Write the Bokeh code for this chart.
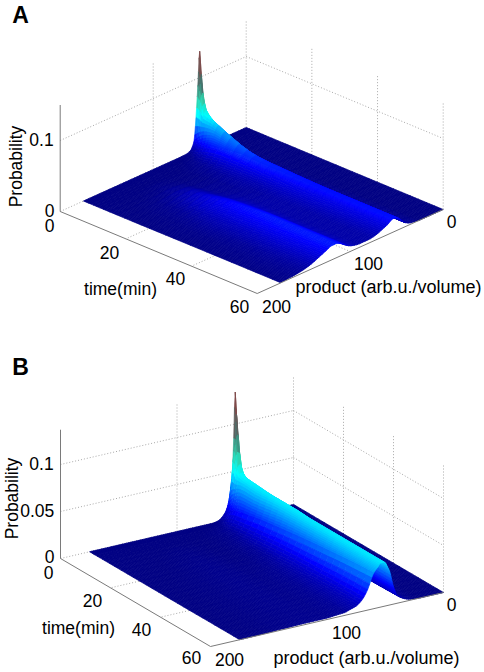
import numpy as np
from bokeh.plotting import figure
from bokeh.layouts import column
from bokeh.models import ColumnDataSource
from bokeh.core.properties import value
from bokeh.embed import file_html
from bokeh.resources import INLINE

# ---------- data ----------
product = [0, 10, 20, 25, 30, 35,
           40, 42, 44, 46, 48, 50, 52, 54, 56, 58, 60,
           65, 70, 75, 80, 85, 90, 95,
           100, 105, 110, 115, 120, 125, 130, 135, 140,
           150, 160, 175]
time_min = [0, 1, 2, 4, 6, 10, 15, 20, 25, 30, 40, 50, 60]

a_t0 = [0,0,0,0,0,0, .0005,.001,.003,.006,.02,.137,.09,.046,.015,.007,.003, .0005,.0001,0,0,0,0,0, 0,0,0,0,0,0,0,0,0, 0,0,0]
a_t1 = [0,0,0,0,0,.0002, .001,.002,.004,.01,.035,.08,.075,.045,.02,.009,.005, .001,.0003,0,0,0,0,0, 0,0,0,0,0,0,0,0,0, 0,0,0]
a_t2 = [0,0,0,0,0,.0005, .0015,.003,.007,.018,.04,.058,.055,.042,.025,.013,.008, .002,.0005,.0002,0,0,0,0, 0,0,0,0,0,0,0,0,0, 0,0,0]
a_t4 = [0,0,0,0,.0002,.001, .002,.005,.012,.025,.04,.048,.05,.042,.03,.02,.013, .005,.002,.001,.0005,.0002,0,0, 0,0,0,0,0,0,0,0,0, 0,0,0]
a_t6 = [0,0,0,0,.0003,.001, .004,.008,.015,.026,.036,.043,.044,.04,.032,.024,.017, .007,.003,.0015,.001,.0005,.0002,.0001, .0001,.0002,.0003,.0004,.0004,.0003,.0002,.0001,0, 0,0,0]
a_t10 = [0,0,0,0,.0005,.002, .006,.011,.017,.024,.03,.034,.035,.033,.029,.024,.019, .01,.005,.003,.002,.001,.0006,.0005, .0006,.001,.0015,.002,.002,.0015,.001,.0008,.0005, .0002,0,0]
a_t15 = [0,0,0,0,.0005,.002, .005,.009,.013,.018,.022,.025,.027,.026,.024,.021,.018, .011,.007,.004,.003,.002,.002,.002, .002,.004,.006,.0065,.006,.005,.004,.003,.002, .001,.0003,0]
a_t20 = [0,0,0,0,.0006,.002, .005,.008,.012,.016,.019,.021,.022,.022,.021,.019,.017, .011,.007,.005,.004,.003,.003,.003, .004,.006,.009,.011,.01,.009,.007,.005,.003, .0015,.0005,.0001]
a_t25 = [0,0,0,0,.0006,.002, .005,.008,.011,.015,.018,.02,.021,.021,.02,.018,.016, .011,.007,.005,.004,.004,.004,.005, .006,.009,.013,.015,.014,.012,.01,.007,.005, .002,.001,.0002]
a_t30 = [0,0,0,0,.0007,.002, .005,.007,.011,.014,.017,.019,.02,.02,.019,.018,.015, .011,.008,.006,.005,.005,.005,.006, .008,.011,.015,.018,.017,.014,.011,.008,.006, .003,.001,.0003]
a_t40 = [0,0,0,0,.0008,.002, .005,.007,.01,.013,.016,.018,.019,.019,.018,.016,.014, .011,.008,.006,.005,.005,.005,.006, .008,.012,.017,.02,.019,.016,.013,.009,.007, .003,.0015,.0004]
a_t50 = [0,0,0,0,.001,.002, .005,.007,.01,.013,.016,.018,.019,.019,.018,.016,.014, .011,.008,.006,.005,.005,.005,.006, .008,.012,.017,.02,.02,.017,.014,.011,.008, .004,.002,.0005]
a_t60 = [0,0,0,0,.001,.002, .005,.007,.01,.013,.016,.018,.019,.019,.018,.016,.014, .011,.008,.006,.005,.005,.005,.006, .008,.012,.017,.02,.02,.017,.014,.011,.008, .004,.002,.0005]

b_t0 = [0,0,0,0,0,0, 0,.001,.003,.012,.05,.134,.06,.032,.017,.01,.006, .001,0,0,0,0,0,0, 0,0,0,0,0,0,0,0,0, 0,0,0]
b_t1 = [0,0,0,0,0,.0002, .001,.003,.006,.018,.06,.09,.08,.05,.026,.014,.008, .002,.0005,0,0,0,0,0, 0,0,0,0,0,0,0,0,0, 0,0,0]
b_t2 = [0,0,0,0,0,.0005, .002,.004,.008,.022,.05,.06,.058,.045,.03,.018,.012, .003,.001,.0003,0,0,0,0, 0,0,0,0,0,0,0,0,0, 0,0,0]
b_t4 = [0,0,0,0,.0002,.001, .003,.006,.014,.03,.044,.05,.05,.045,.035,.025,.017, .006,.002,.001,.0004,.0002,0,0, 0,0,0,0,0,0,0,0,0, 0,0,0]
b_t6 = [0,0,0,0,.0003,.0012, .004,.008,.017,.032,.044,.049,.049,.045,.036,.027,.019, .008,.003,.0015,.0007,.0003,.0001,0, 0,0,0,0,0,0,0,0,0, 0,0,0]
b_t10 = [0,0,0,0,.0004,.0015, .004,.01,.02,.034,.044,.048,.048,.044,.036,.028,.021, .01,.004,.002,.001,.0005,.0002,.0001, .0001,.0002,.0003,.0004,.0004,.0003,.0002,.0001,0, 0,0,0]
b_t15 = [0,0,0,0,.0005,.002, .005,.011,.02,.034,.043,.047,.048,.045,.038,.03,.024, .012,.006,.003,.0015,.0008,.0004,.0002, .0003,.0005,.0006,.0008,.0008,.0006,.0005,.0003,.0002, 0,0,0]
b_t20 = [0,0,0,0,.0005,.002, .005,.011,.021,.034,.043,.047,.048,.046,.04,.033,.026, .014,.007,.003,.002,.001,.0006,.0004, .0005,.0008,.001,.0012,.0012,.001,.0008,.0005,.0003, .0001,0,0]
b_t25 = [0,0,0,0,.0005,.0025, .006,.012,.022,.034,.042,.047,.048,.046,.041,.035,.028, .016,.008,.004,.0025,.0015,.001,.0008, .0008,.001,.0012,.0013,.0013,.0012,.001,.0007,.0005, .0002,.0001,0]
b_t30 = [0,0,0,0,.0007,.003, .007,.013,.023,.034,.042,.046,.047,.046,.042,.036,.03, .017,.009,.005,.003,.002,.0015,.0012, .001,.0012,.0014,.0015,.0015,.0013,.001,.0008,.0006, .0003,.0001,0]
b_t40 = [0,0,0,0,.001,.0035, .008,.014,.024,.035,.041,.046,.047,.047,.043,.038,.033, .019,.01,.006,.004,.0025,.002,.0016, .0014,.0014,.0015,.0015,.0015,.0014,.0012,.001,.0008, .0004,.0002,0]
b_t50 = [0,0,0,.0003,.0012,.004, .008,.015,.024,.035,.041,.046,.047,.047,.044,.04,.036, .021,.011,.0065,.0045,.003,.0022,.0018, .0015,.0015,.0015,.0015,.0015,.0014,.0012,.001,.0009, .0005,.0002,.0001]
b_t60 = [0,0,0,.0005,.0015,.004, .009,.015,.024,.035,.041,.046,.047,.047,.044,.041,.038, .022,.012,.007,.005,.003,.0025,.002, .0015,.0015,.0015,.0015,.0015,.0014,.0012,.001,.001, .0005,.0003,.0001]

prob_a = [a_t0, a_t1, a_t2, a_t4, a_t6, a_t10, a_t15, a_t20, a_t25, a_t30, a_t40, a_t50, a_t60]
prob_b = [b_t0, b_t1, b_t2, b_t4, b_t6, b_t10, b_t15, b_t20, b_t25, b_t30, b_t40, b_t50, b_t60]

time_ticks = [0, 20, 40, 60]
product_ticks = [0, 100, 200]
z_ticks_a = [0, 0.1]
z_ticks_b = [0, 0.05, 0.1]
z_top_a = 0.15
z_top_b = 0.137

# colour scale: jet-like, muted towards the thin peak
cm_pos = [0.0, 0.125, 0.375, 0.5, 0.65, 0.8, 1.0]
cm_r = [0, 0, 0, 50, 70, 120, 140]
cm_g = [0, 0, 255, 210, 115, 80, 60]
cm_b = [131, 255, 255, 170, 110, 80, 60]

FONT = "Liberation Sans"
SIZE = "17.5px"
LONG_SIZE = "18px"


def hermite(x, y, xf):
    """Shape-preserving cubic through the read values (smooth surface shading)."""
    x = np.asarray(x, float)
    y = np.asarray(y, float)
    h = np.diff(x)
    d = np.diff(y) / h
    m = np.zeros_like(y)
    for k in range(1, len(x) - 1):
        if d[k - 1] * d[k] > 0:
            w1 = 2 * h[k] + h[k - 1]
            w2 = h[k] + 2 * h[k - 1]
            m[k] = (w1 + w2) / (w1 / d[k - 1] + w2 / d[k])
    m[0], m[-1] = d[0], d[-1]
    idx = np.clip(np.searchsorted(x, xf, side="right") - 1, 0, len(h) - 1)
    s = (xf - x[idx]) / h[idx]
    return ((2 * s**3 - 3 * s**2 + 1) * y[idx] + (s**3 - 2 * s**2 + s) * h[idx] * m[idx]
            + (-2 * s**3 + 3 * s**2) * y[idx + 1] + (s**3 - s**2) * h[idx] * m[idx + 1])


def refine(nodes, step, min_parts):
    out = []
    for a, b in zip(nodes[:-1], nodes[1:]):
        n = max(min_parts, int(round((b - a) / step)))
        out.extend(a + (b - a) * k / n for k in range(n))
    out.append(nodes[-1])
    return np.array(out)


def panel(letter, letter_xy, z_grid, z_ticks, z_top, z_max, back, vt, vp, vz, y0, height, labels):
    fig = figure(width=484, height=height, x_range=(0, 484), y_range=(y0 + height, y0),
                 output_backend="svg", toolbar_location=None, min_border=0,
                 outline_line_color=None, background_fill_color="white", border_fill_color="white")
    fig.axis.visible = False
    fig.grid.visible = False

    def proj(t, pr, z):
        t = np.asarray(t, float)
        pr = np.asarray(pr, float)
        z = np.asarray(z, float)
        return (back[0] + t / 60 * vt[0] + pr / 200 * vp[0],
                back[1] + t / 60 * vt[1] + pr / 200 * vp[1] + z * vz)

    # walls and floor grid
    gx, gy = [], []

    def grid_line(a, b):
        xa, ya = proj(*a)
        xb, yb = proj(*b)
        gx.append([float(xa), float(xb)])
        gy.append([float(ya), float(yb)])

    for z in z_ticks:
        grid_line((0, 200, z), (0, 0, z))
        grid_line((0, 0, z), (60, 0, z))
    for t in time_ticks[1:]:
        grid_line((t, 0, 0), (t, 0, z_top))
    for t in time_ticks[1:-1]:
        grid_line((t, 0, 0), (t, 200, 0))
    grid_line((0, 0, 0), (0, 0, z_top))
    grid_line((0, 100, 0), (0, 100, z_top))
    grid_line((0, 100, 0), (60, 100, 0))
    fig.multi_line(gx, gy, line_color="#a8a8a8", line_width=1, line_dash="1 2")

    # surface with smooth shading, far facets first
    zg = np.array(z_grid, float)
    t_f = refine(time_min, 2.5, 2)
    p_f = refine(product, 1.7, 3)
    across = np.array([hermite(product, row, p_f) for row in zg])
    zf = np.array([hermite(time_min, across[:, j], t_f) for j in range(len(p_f))]).T
    zf = np.clip(zf, 0, None)
    xs, ys, cols = [], [], []
    for i in range(len(t_f) - 1):
        for j in range(len(p_f) - 1):
            ts = [t_f[i], t_f[i], t_f[i + 1], t_f[i + 1]]
            ps = [p_f[j], p_f[j + 1], p_f[j + 1], p_f[j]]
            zs = [zf[i, j], zf[i, j + 1], zf[i + 1, j + 1], zf[i + 1, j]]
            qx, qy = proj(ts, ps, zs)
            xs.append(np.round(qx, 2).tolist())
            ys.append(np.round(qy, 2).tolist())
            f = (sum(zs) / 4) / z_max
            r = int(np.interp(f, cm_pos, cm_r))
            g = int(np.interp(f, cm_pos, cm_g))
            b = int(np.interp(f, cm_pos, cm_b))
            cols.append(f"#{r:02x}{g:02x}{b:02x}")
    src = ColumnDataSource(dict(xs=xs, ys=ys, c=cols))
    fig.patches("xs", "ys", source=src, fill_color="c", line_color="c", line_width=0.7)

    # axes
    ax, ay = [], []
    for a, b in [((0, 200, 0), (60, 200, 0)), ((60, 200, 0), (60, 0, 0)), ((0, 200, 0), (0, 200, z_top))]:
        xa, ya = proj(*a)
        xb, yb = proj(*b)
        ax.append([float(xa), float(xb)])
        ay.append([float(ya), float(yb)])
    fig.multi_line(ax, ay, line_color="#7a7a7a", line_width=1)

    # texts
    for txt, x, y, size, angle, style in labels + [(letter, letter_xy[0], letter_xy[1], "23px", 0, "bold")]:
        fig.text([x], [y], text=[txt], text_font=value(FONT), text_font_size=value(size),
                 text_font_style=style, text_align="center", text_baseline="middle",
                 text_color="black", angle=angle)
    return fig


labels_a = [
    ("0.1", 41, 139, SIZE, 0, "normal"), ("0", 49, 210, SIZE, 0, "normal"),
    ("0", 49, 225, SIZE, 0, "normal"), ("20", 109, 252, SIZE, 0, "normal"),
    ("40", 175, 278, SIZE, 0, "normal"), ("60", 239, 306, SIZE, 0, "normal"),
    ("200", 276, 306, SIZE, 0, "normal"), ("100", 368, 263, SIZE, 0, "normal"),
    ("0", 451, 221, SIZE, 0, "normal"),
    ("time(min)", 120, 288, SIZE, 0, "normal"),
    ("product (arb.u./volume)", 388, 286, LONG_SIZE, 0, "normal"),
    ("Probability", 15.7, 166, SIZE, np.pi / 2, "normal"),
]
labels_b = [
    ("0.1", 41, 462.7, SIZE, 0, "normal"), ("0.05", 36.7, 510, SIZE, 0, "normal"),
    ("0", 49, 556, SIZE, 0, "normal"), ("0", 48, 572, SIZE, 0, "normal"),
    ("20", 92, 600, SIZE, 0, "normal"), ("40", 141, 628.7, SIZE, 0, "normal"),
    ("60", 191, 657, SIZE, 0, "normal"), ("200", 229, 659, SIZE, 0, "normal"),
    ("100", 346, 632, SIZE, 0, "normal"), ("0", 451, 604, SIZE, 0, "normal"),
    ("time(min)", 78, 627, SIZE, 0, "normal"),
    ("product (arb.u./volume)", 366, 657.7, LONG_SIZE, 0, "normal"),
    ("Probability", 11.7, 498, SIZE, np.pi / 2, "normal"),
]

pa = panel("A", (20, 14), prob_a, z_ticks_a, z_top_a, 0.137,
           (245.7, 127), (197, 82), (-186, 84), -710, 0, 336, labels_a)
pb = panel("B", (20, 366.7), prob_b, z_ticks_b, z_top_b, 0.134,
           (293, 504), (150, 88), (-233, 54), -940, 336, 336, labels_b)

page = column(pa, pb, spacing=0)
open("out.html", "w").write(file_html(page, INLINE))
